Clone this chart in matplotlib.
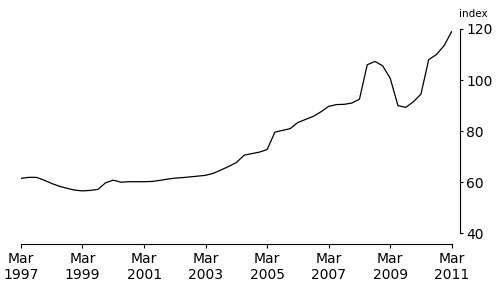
import matplotlib
matplotlib.use("Agg")
import matplotlib.pyplot as plt
import pandas as pd

# quarterly index, Mar 1997 - Mar 2011
dates = pd.date_range("1997-03-01", "2011-03-01", freq="QS-MAR")
index_vals = [61.5, 61.9, 61.9, 60.8, 59.5, 58.4, 57.6, 56.9,
              56.6, 56.8, 57.2, 59.8, 60.8, 60.0, 60.2, 60.2,
              60.2, 60.3, 60.7, 61.2, 61.6, 61.8, 62.1, 62.4,
              62.7, 63.5, 64.8, 66.2, 67.7, 70.6, 71.2, 71.8,
              72.8, 79.6, 80.3, 81.0, 83.4, 84.6, 85.8, 87.6,
              89.7, 90.4, 90.5, 91.0, 92.5, 106.0, 107.3, 105.6,
              100.7, 90.0, 89.3, 91.5, 94.5, 108.0, 110.0, 113.5,
              119.0]
tick_years = [1997, 1999, 2001, 2003, 2005, 2007, 2009, 2011]
y_ticks = [40, 60, 80, 100, 120]

plt.rcParams["font.family"] = "DejaVu Sans"
W, H = 496, 284
fig = plt.figure(figsize=(W / 100, H / 100), dpi=100)
ax = fig.add_axes([21 / W, (H - 233.3) / H, (451.7 - 21) / W, (233.3 - 29) / H])

ax.plot(dates, index_vals, color="black", linewidth=0.9)

ax.set_xlim(dates[0], dates[-1])
ax.set_ylim(40, 120)

tick_dates = [pd.Timestamp(f"{y}-03-01") for y in tick_years]
ax.set_xticks(tick_dates)
ax.set_xticklabels([f"Mar\n{y}" for y in tick_years], fontsize=7.5, linespacing=1.25)
ax.set_yticks(y_ticks)
ax.set_yticklabels([str(v) for v in y_ticks], fontsize=7.5)

ax.yaxis.tick_right()
ax.spines["top"].set_visible(False)
ax.spines["left"].set_visible(False)
ax.spines["bottom"].set_position(("outward", 7.5))
ax.spines["right"].set_position(("outward", 6))
for s in ["bottom", "right"]:
    ax.spines[s].set_linewidth(0.8)
ax.tick_params(axis="x", direction="out", length=3, width=0.8, pad=3)
ax.tick_params(axis="y", direction="out", length=2.5, width=0.8, pad=2)

fig.text(459 / W, (H - 16.7) / H, "index", fontsize=7.5, ha="left", va="baseline")

fig.savefig("out.png", dpi=100)
